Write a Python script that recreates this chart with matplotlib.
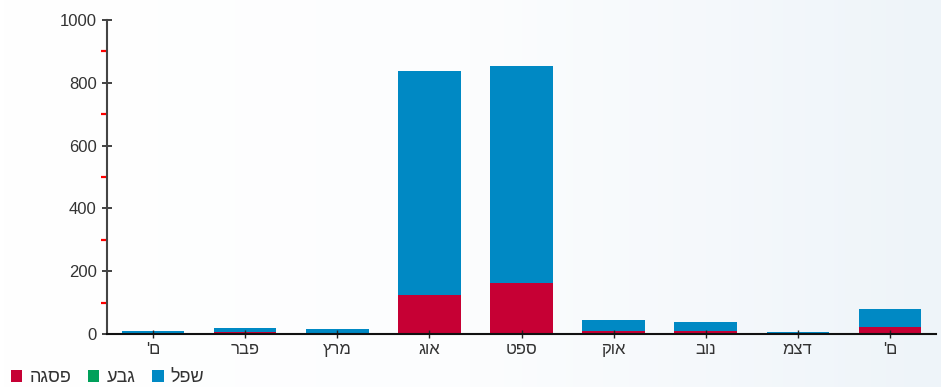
import matplotlib
matplotlib.use("Agg")
import matplotlib.pyplot as plt
import numpy as np
from matplotlib.colors import LinearSegmentedColormap

plt.rcParams['font.family'] = ['Liberation Sans', 'DejaVu Sans']

months = ["ם'", "פבר", "מרץ", "אוג", "ספט", "אוק", "נוב", "דצמ", "ם'"]
peak = [2, 7, 3, 124, 162, 10, 10, 0, 22]      # פסגה (red)
mid = [0, 0, 0, 0, 0, 0, 0, 0, 0]              # גבע (green)
low = [8, 13, 12, 713, 691, 35, 28, 6, 58]     # שפל (blue)

series_names = ["פסגה", "גבע", "שפל"]
colors = ["#c60034", "#00a05a", "#0089c4"]

# the reference shows the Hebrew glyphs in left-to-right order
def shown(s):
    return s[::-1]

fig = plt.figure(figsize=(9.41, 3.87), dpi=100)

bg = fig.add_axes([0, 0, 1, 1], zorder=-10)
gx = np.linspace(0, 1, 256)
grad = np.tile(gx, (16, 1))
cmap = LinearSegmentedColormap.from_list("bg", ["#ffffff", "#fcfdfe", "#eef4f9"])
bg.imshow(grad, aspect='auto', cmap=cmap, extent=[0, 1, 0, 1])
bg.axis('off')

ax = fig.add_axes([107/941, 53/387, 829/941, 314/387])
ax.patch.set_alpha(0)
x = np.arange(len(months))
w = 0.68
b1 = ax.bar(x, peak, w, color=colors[0])
bottom2 = np.array(peak)
b2 = ax.bar(x, mid, w, bottom=bottom2, color=colors[1])
bottom3 = bottom2 + np.array(mid)
b3 = ax.bar(x, low, w, bottom=bottom3, color=colors[2])

ax.set_xlim(-0.5, len(months) - 0.5)
ax.set_ylim(0, 1000)
ax.set_yticks(np.arange(0, 1001, 200))
ax.set_yticks(np.arange(100, 1000, 200), minor=True)
ax.tick_params(axis='y', which='major', direction='inout', length=7, width=1.2,
               color='#222222', labelsize=12, labelcolor='#333333', pad=4)
ax.tick_params(axis='y', which='minor', direction='out', length=4, width=1.6, color='#ff0000')
ax.set_xticks(x)
ax.set_xticklabels([shown(m) for m in months])
ax.tick_params(axis='x', which='major', direction='inout', length=6, width=1,
               color='#222222', labelsize=12, labelcolor='#333333', pad=3)
for s in ['top', 'right']:
    ax.spines[s].set_visible(False)
ax.spines['left'].set_color('#444444')
ax.spines['left'].set_linewidth(1.5)
ax.spines['bottom'].set_color('#111111')
ax.spines['bottom'].set_linewidth(1.5)

fig.legend(handles=[b1, b2, b3], labels=[shown(n) for n in series_names],
           loc='lower left', bbox_to_anchor=(-0.006, -0.04), ncol=3, frameon=False,
           fontsize=13, handlelength=0.65, handleheight=0.65,
           handletextpad=0.4, columnspacing=0.9, labelcolor='#333333')

fig.savefig("out.png", dpi=100)
